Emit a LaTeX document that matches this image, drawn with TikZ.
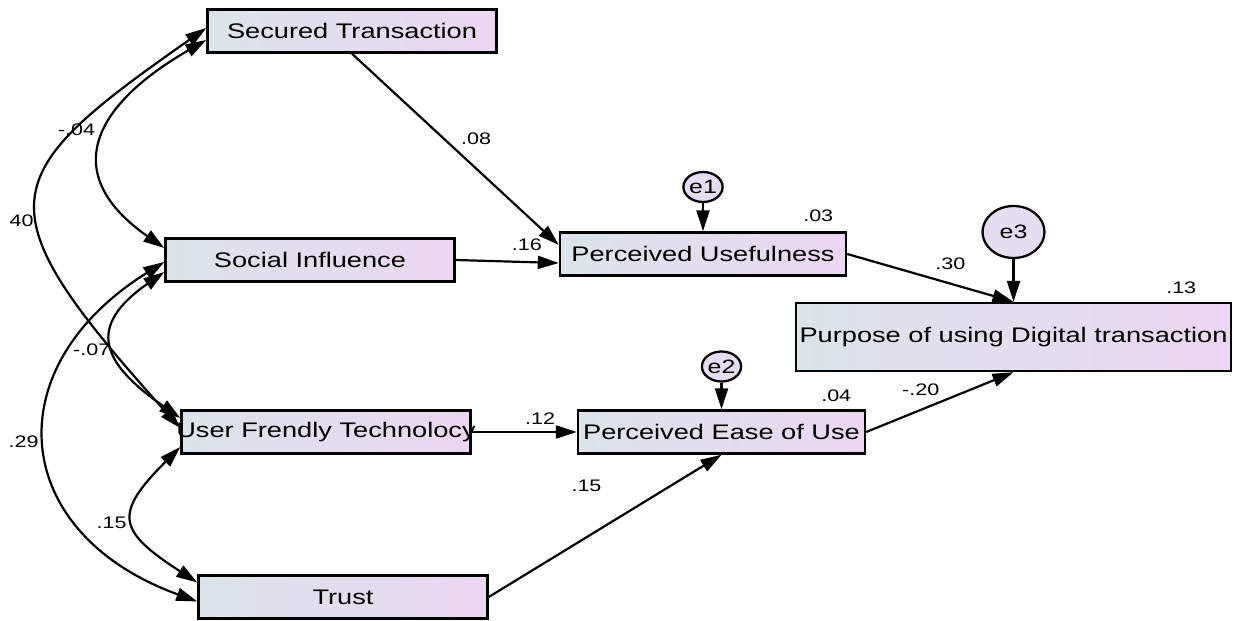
\documentclass[tikz,border=0pt]{standalone}
\usepackage{fontspec}
\setmainfont{Liberation Sans}[FakeStretch=1.29]
\usepackage{tikz}
\usetikzlibrary{arrows.meta,shapes.geometric}

\definecolor{boxleft}{RGB}{218,228,234}
\definecolor{boxright}{RGB}{236,214,242}
\definecolor{errfill}{RGB}{228,220,240}

\begin{document}
\begin{tikzpicture}[
    obs/.style={draw, line width=1.4pt, left color=boxleft, right color=boxright,
      minimum width=5.78cm, minimum height=0.86cm, inner sep=0pt,
      font=\fontsize{12}{14}\selectfont},
    err/.style={draw, ellipse, line width=1.3pt, fill=errfill, inner sep=0pt,
      minimum width=0.78cm, minimum height=0.6cm, font=\fontsize{11}{13}\selectfont},
    coef/.style={inner sep=0pt, font=\fontsize{9.5}{11}\selectfont},
    reg/.style={->, line width=1.25pt},
    cov/.style={<->, line width=1.25pt},
    >={Triangle[length=4.2mm,width=2.6mm]}
  ]
      \useasboundingbox (0,0) rectangle (24.74,-12.42);

      \node [obs] (1) at (7.04,-0.62) {Secured Transaction};
      \node [obs, below of=1, xshift=-0.84cm, yshift=-3.58cm] (2) {Social Influence};
      \node [obs, below of=2, xshift=0.32cm, yshift=-2.44cm] (3) {\makebox[0pt]{User Frendly Technolocy}};
      \node [obs, below of=3, xshift=0.34cm, yshift=-2.3cm] (4) {Trust};
      \node [obs, minimum width=5.72cm, right of=2, xshift=6.86cm, yshift=0.12cm] (5) {Perceived Usefulness};
      \node [obs, minimum width=5.74cm, right of=3, xshift=6.91cm] (6) {Perceived Ease of Use};
      \node [obs, minimum width=8.7cm, minimum height=1.36cm, right of=5, xshift=5.21cm, yshift=-1.66cm] (7) {Purpose of using Digital transaction};

      \node [err, above of=5, yshift=0.34cm] (e1) {e1};
      \node [err, above of=6, yshift=0.31cm] (e2) {e2};
      \node [err, minimum width=1.24cm, minimum height=1.04cm, above of=7, yshift=1.1cm] (e3) {e3};

      % squared multiple correlations
      \node [coef] (r5) at ([xshift=-0.58cm,yshift=0.32cm]5.north east) {.03};
      \node [coef] (r6) at ([xshift=-0.6cm,yshift=0.27cm]6.north east) {.04};
      \node [coef] (r7) at ([xshift=-1.02cm,yshift=0.28cm]7.north east) {.13};

      % correlations
      \draw[cov] ([yshift=-0.18cm]1.west) to[out=210,in=145,distance=2.6cm] node[coef,midway,xshift=-0.53cm,yshift=0.21cm] {-.04} ([yshift=0.24cm]2.west);
      \draw[cov] ([yshift=0.06cm]1.west) to[out=215,in=132,out distance=5.2cm,in distance=6cm] node[coef,midway,xshift=-0.33cm,yshift=-0.41cm] {40} ([yshift=0.08cm]3.west);
      \draw[cov] ([yshift=-0.24cm]2.west) to[out=215,in=145,distance=1.92cm] node[coef,midway,xshift=-0.43cm,yshift=-0.1cm] {-.07} ([yshift=0.28cm]3.west);
      \draw[cov] ([yshift=-0.04cm]2.west) to[out=212,in=160,distance=4cm] node[coef,midway,xshift=-0.46cm,yshift=0.08cm] {.29} ([yshift=-0.09cm]4.west);
      \draw[cov] ([yshift=-0.3cm]3.west) to[out=225,in=147,distance=1.9cm] node[coef,midway,xshift=-0.44cm,yshift=-0.05cm] {.15} ([yshift=0.29cm]4.west);

      % regressions
      \draw[reg] (1.south) -- node[coef,pos=0.6,yshift=0.6cm] {.08} ([yshift=0.18cm]5.west);
      \draw[reg] (2.east) -- node[coef,pos=0.69,yshift=0.34cm] {.16} ([yshift=-0.18cm]5.west);
      \draw[reg] (3.east) -- node[coef,pos=0.65,yshift=0.26cm] {.12} (6.west);
      \draw[reg] (4.east) -- node[coef,pos=0.42,yshift=1.02cm] {.15} (6.south);
      \draw[reg] (5.east) -- node[coef,pos=0.62,yshift=0.4cm] {.30} (7.north);
      \draw[reg] (6.east) -- node[coef,pos=0.37,yshift=0.4cm] {-.20} (7.south);
      \draw[reg] (e1) -- (5);
      \draw[reg] (e2) -- (6);
      \draw[reg] (e3) -- (7);
\end{tikzpicture}
\end{document}
